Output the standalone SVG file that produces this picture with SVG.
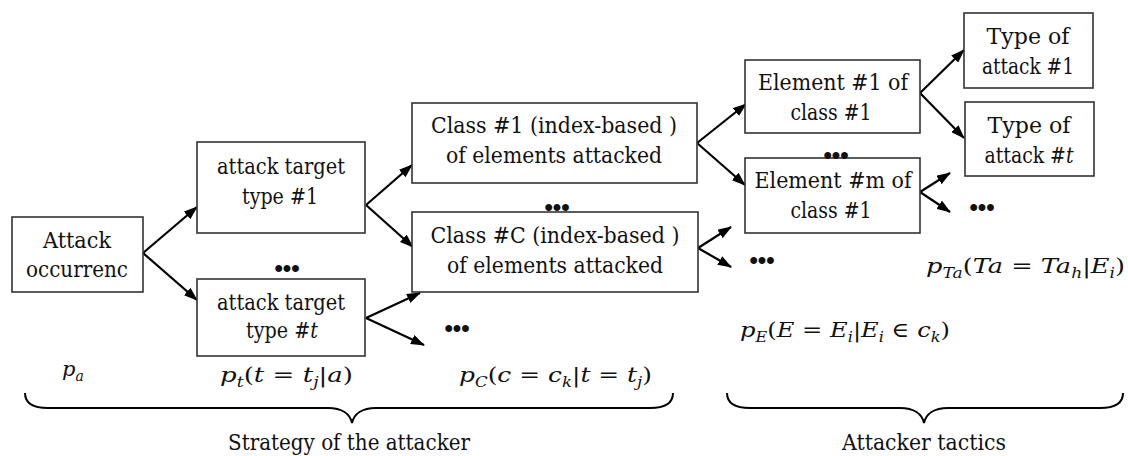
<svg xmlns="http://www.w3.org/2000/svg" width="1128" height="456" viewBox="0 0 1128 456">
  <style>
    .box { fill: #ffffff; stroke: #333333; stroke-width: 1.6; }
    .lbl { font-family: 'DejaVu Serif', serif; font-size: 23px; fill: #111111; text-anchor: middle; }
    .dots { font-family: 'Liberation Sans', sans-serif; font-size: 24px; font-weight: bold; fill: #111111; text-anchor: middle; }
    .math { font-family: 'DejaVu Serif', serif; font-size: 21px; fill: #111111; }
    .it { font-style: italic; }
    .sub { font-size: 14px; font-style: italic; }
    .cap { font-family: 'DejaVu Serif', serif; font-size: 22px; fill: #111111; }
    .conn line { stroke: #000000; stroke-width: 2.2; marker-end: url(#arrow); }
    .brace { fill: none; stroke: #000000; stroke-width: 2; }
  </style>
  <defs>
    <marker id="arrow" markerUnits="userSpaceOnUse" markerWidth="14" markerHeight="10" refX="13" refY="5" orient="auto">
      <path d="M0,0 L14,5 L0,10 z" fill="#000000"/>
    </marker>
  </defs>

  <!-- connectors -->
  <g id="connectors" class="conn">
    <line x1="143" y1="253" x2="197" y2="207"/>
    <line x1="143" y1="253" x2="197" y2="300"/>
    <line x1="366" y1="205" x2="412" y2="165"/>
    <line x1="366" y1="205" x2="413" y2="247"/>
    <line x1="366" y1="318" x2="420" y2="293"/>
    <line x1="366" y1="318" x2="424" y2="345"/>
    <line x1="697" y1="143" x2="746" y2="104"/>
    <line x1="697" y1="143" x2="745" y2="185"/>
    <line x1="698" y1="248" x2="731" y2="227"/>
    <line x1="698" y1="248" x2="731" y2="267"/>
    <line x1="920" y1="93" x2="964" y2="50"/>
    <line x1="920" y1="93" x2="964" y2="138"/>
    <line x1="920" y1="192" x2="950" y2="173"/>
    <line x1="920" y1="192" x2="950" y2="212"/>
  </g>

  <!-- nodes -->
  <g id="attack-occurrence">
    <rect class="box" x="12" y="217" width="131" height="75"/>
    <text class="lbl" x="77" y="248" textLength="68" lengthAdjust="spacingAndGlyphs">Attack</text>
    <text class="lbl" x="77" y="277" textLength="102" lengthAdjust="spacingAndGlyphs">occurrenc</text>
  </g>
  <g id="target-type-1">
    <rect class="box" x="197" y="142" width="168" height="91"/>
    <text class="lbl" x="281" y="174" textLength="128" lengthAdjust="spacingAndGlyphs">attack target</text>
    <text class="lbl" x="280" y="204" textLength="76" lengthAdjust="spacingAndGlyphs">type #1</text>
  </g>
  <g id="target-type-t">
    <rect class="box" x="197" y="279" width="168" height="77"/>
    <text class="lbl" x="281" y="310" textLength="128" lengthAdjust="spacingAndGlyphs">attack target</text>
    <text class="lbl" x="282" y="338" textLength="72" lengthAdjust="spacingAndGlyphs">type #<tspan class="it">t</tspan></text>
  </g>
  <g id="class-1">
    <rect class="box" x="412" y="103" width="285" height="80"/>
    <text class="lbl" x="554" y="133" textLength="246" lengthAdjust="spacingAndGlyphs">Class #1 (index-based )</text>
    <text class="lbl" x="554" y="163" textLength="216" lengthAdjust="spacingAndGlyphs">of elements attacked</text>
  </g>
  <g id="class-c">
    <rect class="box" x="412" y="212" width="286" height="80"/>
    <text class="lbl" x="555" y="243" textLength="249" lengthAdjust="spacingAndGlyphs">Class #C (index-based )</text>
    <text class="lbl" x="555" y="273" textLength="216" lengthAdjust="spacingAndGlyphs">of elements attacked</text>
  </g>
  <g id="element-1">
    <rect class="box" x="745" y="60" width="175" height="73"/>
    <text class="lbl" x="833" y="90" textLength="150" lengthAdjust="spacingAndGlyphs">Element #1 of</text>
    <text class="lbl" x="831" y="120" textLength="81" lengthAdjust="spacingAndGlyphs">class #1</text>
  </g>
  <g id="element-m">
    <rect class="box" x="745" y="158" width="175" height="75"/>
    <text class="lbl" x="833" y="188" textLength="157" lengthAdjust="spacingAndGlyphs">Element #m of</text>
    <text class="lbl" x="831" y="218" textLength="81" lengthAdjust="spacingAndGlyphs">class #1</text>
  </g>
  <g id="attack-type-1">
    <rect class="box" x="964" y="13" width="129" height="75"/>
    <text class="lbl" x="1028" y="44" textLength="83" lengthAdjust="spacingAndGlyphs">Type of</text>
    <text class="lbl" x="1028" y="74" textLength="92" lengthAdjust="spacingAndGlyphs">attack #1</text>
  </g>
  <g id="attack-type-t">
    <rect class="box" x="965" y="102" width="129" height="74"/>
    <text class="lbl" x="1029" y="133" textLength="83" lengthAdjust="spacingAndGlyphs">Type of</text>
    <text class="lbl" x="1029" y="163" textLength="89" lengthAdjust="spacingAndGlyphs">attack #<tspan class="it">t</tspan></text>
  </g>

  <!-- probability labels -->
  <g id="probabilities">
    <text class="math" x="62" y="376" font-size="23"><tspan class="it">p</tspan><tspan class="sub" dy="5">a</tspan></text>
    <text class="math" x="220" y="382" textLength="133" lengthAdjust="spacingAndGlyphs"><tspan class="it">p</tspan><tspan class="sub" dy="5">t</tspan><tspan dy="-5">(</tspan><tspan class="it">t</tspan> = <tspan class="it">t</tspan><tspan class="sub" dy="5">j</tspan><tspan dy="-5">|</tspan><tspan class="it">a</tspan>)</text>
    <text class="math" x="459" y="382" textLength="193" lengthAdjust="spacingAndGlyphs"><tspan class="it">p</tspan><tspan class="sub" dy="5">C</tspan><tspan dy="-5">(</tspan><tspan class="it">c</tspan> = <tspan class="it">c</tspan><tspan class="sub" dy="5">k</tspan><tspan dy="-5">|</tspan><tspan class="it">t</tspan> = <tspan class="it">t</tspan><tspan class="sub" dy="5">j</tspan><tspan dy="-5">)</tspan></text>
    <text class="math" x="740" y="337" textLength="210" lengthAdjust="spacingAndGlyphs"><tspan class="it">p</tspan><tspan class="sub" dy="5">E</tspan><tspan dy="-5">(</tspan><tspan class="it">E</tspan> = <tspan class="it">E</tspan><tspan class="sub" dy="5">i</tspan><tspan dy="-5">|</tspan><tspan class="it">E</tspan><tspan class="sub" dy="5">i</tspan><tspan dy="-5"> ∈ </tspan><tspan class="it">c</tspan><tspan class="sub" dy="5">k</tspan><tspan dy="-5">)</tspan></text>
    <text class="math" x="926" y="273" textLength="199" lengthAdjust="spacingAndGlyphs"><tspan class="it">p</tspan><tspan class="sub" dy="5">Ta</tspan><tspan dy="-5">(</tspan><tspan class="it">Ta</tspan> = <tspan class="it">Ta</tspan><tspan class="sub" dy="5">h</tspan><tspan dy="-5">|</tspan><tspan class="it">E</tspan><tspan class="sub" dy="5">i</tspan><tspan dy="-5">)</tspan></text>
  </g>

  <!-- grouping braces and captions -->
  <g id="strategy">
    <path class="brace" d="M25,393 C25,402 32,408 48,408 L328,408 C342,408 350,414 352,423 C354,414 362,408 376,408 L650,408 C666,408 673,402 673,393"/>
    <text class="cap" x="228" y="450" textLength="242" lengthAdjust="spacingAndGlyphs">Strategy of the attacker</text>
  </g>
  <g id="tactics">
    <path class="brace" d="M727,393 C727,402 734,408 750,408 L900,408 C914,408 922,414 924,423 C926,414 934,408 948,408 L1100,408 C1116,408 1123,402 1123,393"/>
    <text class="cap" x="842" y="450" textLength="164" lengthAdjust="spacingAndGlyphs">Attacker tactics</text>
  </g>

  <!-- ellipses between branches -->
  <g id="ellipses">
    <text class="dots" x="287" y="276">•••</text>
    <text class="dots" x="557" y="215">•••</text>
    <text class="dots" x="457" y="336">•••</text>
    <text class="dots" x="762" y="268">•••</text>
    <text class="dots" x="836" y="163">•••</text>
    <text class="dots" x="982" y="215">•••</text>
  </g>
</svg>
